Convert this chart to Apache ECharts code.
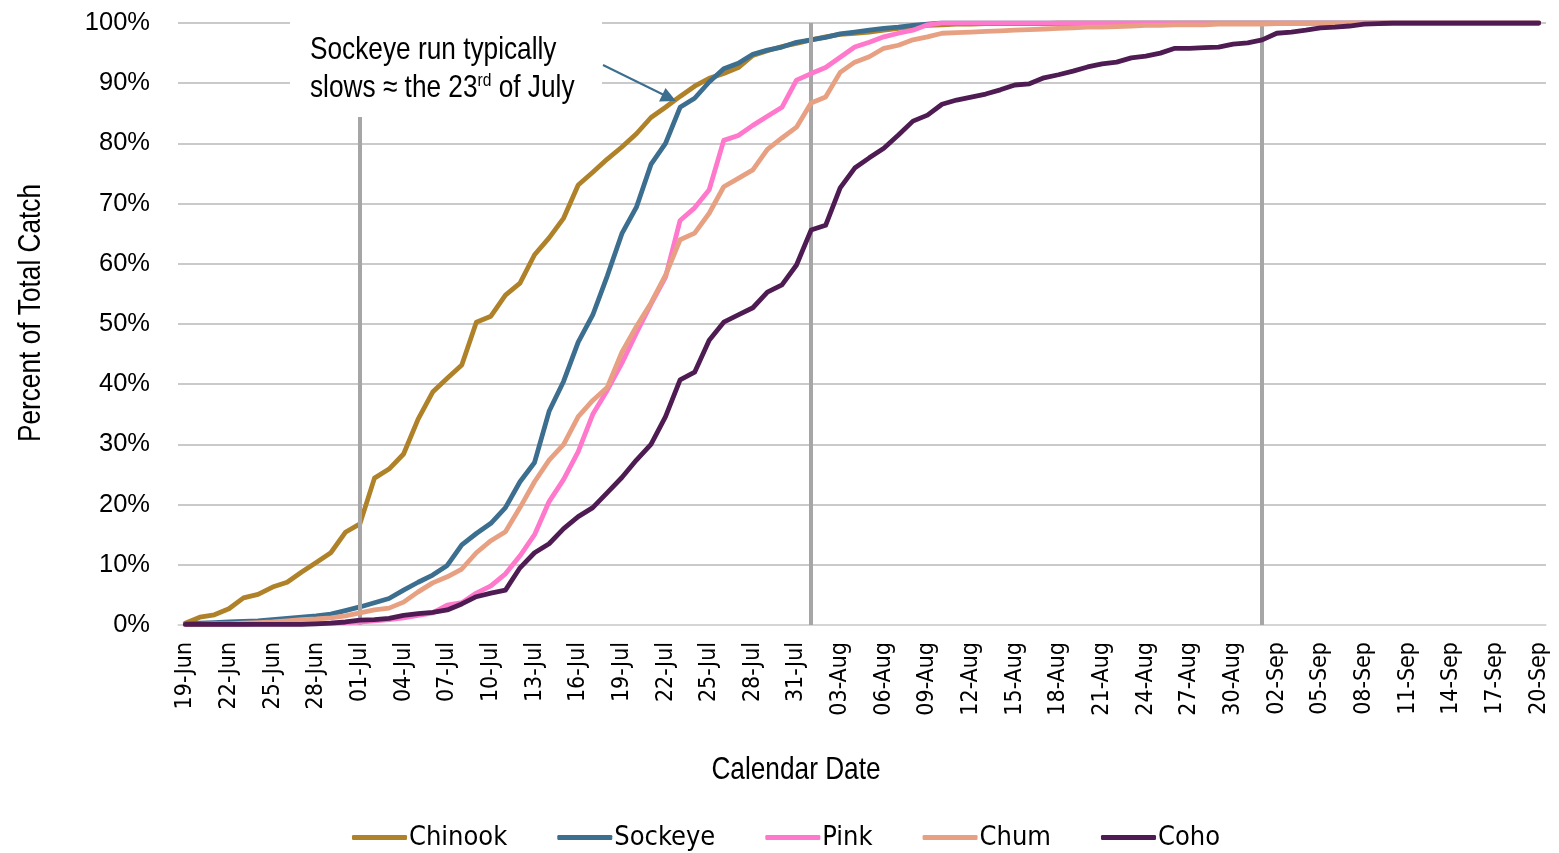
<!DOCTYPE html>
<html><head><meta charset="utf-8">
<script src="https://cdn.jsdelivr.net/npm/echarts@6/dist/echarts.min.js"></script>
<style>html,body{margin:0;padding:0;background:#fff}#c{width:1559px;height:853px}</style>
</head><body><div id="c"></div>
<script>
const dates = ['19-Jun','20-Jun','21-Jun','22-Jun','23-Jun','24-Jun','25-Jun','26-Jun','27-Jun','28-Jun','29-Jun','30-Jun',
'01-Jul','02-Jul','03-Jul','04-Jul','05-Jul','06-Jul','07-Jul','08-Jul','09-Jul','10-Jul','11-Jul','12-Jul','13-Jul','14-Jul','15-Jul','16-Jul','17-Jul','18-Jul','19-Jul','20-Jul','21-Jul','22-Jul','23-Jul','24-Jul','25-Jul','26-Jul','27-Jul','28-Jul','29-Jul','30-Jul','31-Jul',
'01-Aug','02-Aug','03-Aug','04-Aug','05-Aug','06-Aug','07-Aug','08-Aug','09-Aug','10-Aug','11-Aug','12-Aug','13-Aug','14-Aug','15-Aug','16-Aug','17-Aug','18-Aug','19-Aug','20-Aug','21-Aug','22-Aug','23-Aug','24-Aug','25-Aug','26-Aug','27-Aug','28-Aug','29-Aug','30-Aug','31-Aug',
'01-Sep','02-Sep','03-Sep','04-Sep','05-Sep','06-Sep','07-Sep','08-Sep','09-Sep','10-Sep','11-Sep','12-Sep','13-Sep','14-Sep','15-Sep','16-Sep','17-Sep','18-Sep','19-Sep','20-Sep'];

const chinook = [0.3,1.3,1.7,2.7,4.5,5.1,6.3,7.1,8.8,10.4,12.0,15.4,16.8,24.4,25.9,28.4,34.2,38.7,
41,43.2,50.3,51.3,54.8,56.8,61.5,64.3,67.6,73.1,75.2,77.4,79.4,81.6,84.3,86,87.8,89.5,90.8,91.6,92.6,94.6,
95.4,96.1,96.6,97.2,97.7,98.1,98.3,98.5,98.8,99.1,99.4,99.6,99.7,99.8,99.8,99.9,99.9,99.9,99.9,99.9,
100,100,100,100,100,100,100,100,100,100,100,100,100,100,100,100,100,100,100,100,100,100,100,100,100,100,100,100,100,100,100,100,100,100];

const sockeye = [0.2,0.3,0.4,0.5,0.6,0.7,0.9,1.1,1.3,1.5,1.8,2.4,3.0,3.7,4.4,5.8,7.1,8.3,9.9,13.3,15.2,16.9,19.5,
23.8,27,35.5,40.5,47,51.5,58,65,69.4,76.5,80,86,87.5,90.2,92.4,93.3,94.8,95.5,96,96.8,97.2,97.6,98.2,98.5,98.8,99.1,99.3,99.6,99.8,
100,100,100,100,100,100,100,100,100,100,100,100,100,100,100,100,100,100,100,100,100,100,100,100,100,100,100,100,100,100,100,100,100,100,100,100,100,100,100,100,100,100];

const pink = [0.1,0.1,0.1,0.1,0.1,0.2,0.2,0.2,0.2,0.3,0.3,0.4,0.5,0.7,0.9,1.2,1.6,
2.0,3.3,3.7,5.3,6.5,8.5,11.5,15,20.5,24.2,28.8,35,39,43.5,48.5,53.3,57.8,67.2,69.3,72.3,80.5,81.3,83,84.5,86,90.5,91.6,92.6,94.3,96,
96.8,97.7,98.3,98.8,99.7,100,
100,100,100,100,100,100,100,100,100,100,100,100,100,100,100,100,100,100,100,100,100,100,100,100,100,100,100,100,100,100,100,100,100,100,100,100,100,100,100,100,100];

const chum = [0.1,0.1,0.2,0.2,0.3,0.4,0.5,0.7,0.9,1.0,1.2,1.5,2.0,2.5,2.8,3.8,5.5,7,8,9.3,12,14,15.5,
19.5,23.8,27.4,30,34.6,37.3,39.5,45.3,49.6,53.5,58.1,64,65.1,68.4,72.8,74.2,75.6,79,80.9,82.7,86.7,87.7,91.8,93.5,94.4,95.8,96.3,97.2,97.7,98.3,
98.4,98.5,98.6,98.7,98.8,98.9,99.0,99.1,99.2,99.3,99.3,99.4,99.5,99.6,99.6,99.7,99.7,99.7,99.8,99.8,99.8,99.8,99.9,99.9,99.9,99.9,99.9,
100,100,100,100,100,100,100,100,100,100,100,100,100,100];

const coho = [0.1,0.1,0.1,0.1,0.1,0.1,0.1,0.1,0.1,0.2,0.3,0.5,0.8,0.9,1.1,1.6,1.9,2.1,2.5,3.5,4.7,5.3,5.8,
9.5,12,13.5,16,18,19.5,22,24.5,27.4,30,34.6,40.7,42,47.3,50.3,51.5,52.7,55.3,56.5,59.8,65.6,66.4,72.6,75.9,77.6,79.2,81.4,83.7,84.7,86.5,
87.2,87.7,88.2,88.9,89.7,89.9,90.9,91.4,92,92.7,93.2,93.5,94.2,94.5,95,95.8,95.8,95.9,96,96.5,96.7,97.2,98.3,98.5,98.8,99.2,99.3,99.5,99.8,
99.9,100,100,100,100,100,100,100,100,100,100,100];

const seriesNames = ['Chinook','Sockeye','Pink','Chum','Coho'];
const seriesColors = ['#AF8229','#3C6E8F','#FF78CB','#E7A182','#4E1C52'];
const yTicks = [0,10,20,30,40,50,60,70,80,90,100];
// reference date lines: [date, top % of line]
const refLines = [['01-Jul',84.4],['01-Aug',100],['01-Sep',100]];

const COND = '"DejaVu Sans Condensed","Liberation Sans Narrow",sans-serif';
const ARIAL = '"Liberation Sans",Arial,sans-serif';
const NX = 0.82; // narrow emulation
const chart = echarts.init(document.getElementById('c'), null, {renderer:'canvas'});
const allData = [chinook, sockeye, pink, chum, coho];

const series = [{
  name:'refs', type:'line', data:[], z:1, silent:true, symbol:'none',
  markLine:{
    silent:true, symbol:['none','none'], animation:false,
    label:{show:false},
    lineStyle:{color:'#A6A6A6', width:4, type:'solid'},
    data: refLines.map(r => [{coord:[r[0],0]},{coord:[r[0],r[1]]}])
  }
}];
seriesNames.forEach((n,i)=>{
  series.push({
    name:n, type:'line', data:allData[i], symbol:'none', showSymbol:false, z:3+i,
    lineStyle:{width:4.8, color:seriesColors[i], cap:'round', join:'round'},
    itemStyle:{color:seriesColors[i]}
  });
});

const option = {
  animation:false,
  grid:{left:178, right:13, top:23, bottom:228},
  xAxis:{
    type:'category', data:dates, boundaryGap:true,
    axisLine:{lineStyle:{color:'#D9D9D9', width:1.5}},
    axisTick:{show:false},
    axisLabel:{interval:2, rotate:90, fontFamily:COND, fontSize:23, color:'#000', margin:17},
    splitLine:{show:false}
  },
  yAxis:{
    type:'value', min:yTicks[0], max:yTicks[yTicks.length-1], interval:10,
    axisLabel:{formatter:'{value}%', fontFamily:ARIAL, fontSize:25.5, color:'#000', margin:28},
    splitLine:{lineStyle:{color:'#B8B8B8', width:1.5}},
    axisLine:{show:false}, axisTick:{show:false}
  },
  legend:{
    data:seriesNames, left:347, top:819, icon:'roundRect',
    itemWidth:55, itemHeight:5, itemGap:50,
    textStyle:{fontFamily:COND, fontSize:27, color:'#000', padding:[0,0,0,-3]}
  },
  graphic:[
    {type:'text', x:31, y:313, rotation:Math.PI/2, scaleX:NX, style:{text:'Percent of Total Catch', fontFamily:ARIAL, fontSize:32, fill:'#000', textAlign:'center', textVerticalAlign:'middle'}},
    {type:'text', x:796, y:770, scaleX:NX, style:{text:'Calendar Date', fontFamily:ARIAL, fontSize:32, fill:'#000', textAlign:'center', textVerticalAlign:'middle'}},
    {type:'rect', z:50, shape:{x:290, y:12, width:312, height:104}, style:{fill:'#fff'}},
    {type:'text', z:51, x:310, y:50, scaleX:NX, style:{text:'Sockeye run typically', fontFamily:ARIAL, fontSize:32, fill:'#000', textVerticalAlign:'middle'}},
    {type:'text', z:51, x:310, y:88, scaleX:NX, style:{
      text:'{a|slows ≈ the 23}{s|rd}{a| of July}',
      fontFamily:ARIAL, fontSize:32, fill:'#000', textVerticalAlign:'middle',
      rich:{a:{fontFamily:ARIAL, fontSize:32, fill:'#000', verticalAlign:'middle'},
            s:{fontFamily:ARIAL, fontSize:19, fill:'#000', verticalAlign:'top', padding:[0,0,14,0]}}
    }},
    {type:'line', z:51, shape:{x1:603, y1:65, x2:664, y2:95}, style:{stroke:'#3C6E8F', lineWidth:2}},
    {type:'polygon', z:51, shape:{points:[[676,101],[659,101.5],[665.5,88]]}, style:{fill:'#3C6E8F'}}
  ],
  series: series
};
chart.setOption(option);
</script></body></html>
